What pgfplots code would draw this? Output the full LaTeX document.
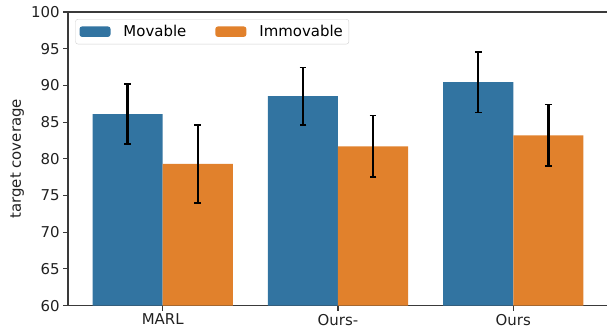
\documentclass[border=0pt]{standalone}
\usepackage{pgfplots}
\pgfplotsset{compat=1.18}
\usepackage{fontspec}
\setmainfont{DejaVu Sans}
\definecolor{sbblue}{HTML}{3274A1}
\definecolor{sborange}{HTML}{E1812C}
\definecolor{spine}{HTML}{3A3A3A}
\begin{document}
\begin{tikzpicture}
\useasboundingbox (0,0) rectangle (607bp,330bp);
\begin{axis}[
  at={(68bp,24.4bp)}, anchor=south west,
  scale only axis, width=541bp, height=293.6bp,
  xmin=-0.54, xmax=2.546, ymin=60, ymax=100,
  xtick={0,1,2}, xticklabels={MARL,Ours-,Ours},
  ytick={60,65,...,100},
  tick align=outside, tick pos=left,
  major tick length=4.9bp,
  tick style={spine, line width=1.1bp},
  axis line style={spine, line width=1.1bp},
  /pgf/number format/assume math mode=true,
  tick label style={font=\fontsize{15}{18}\selectfont, text=black!87},
  label style={font=\fontsize{15}{18}\selectfont, text=black!87},
  ylabel={target coverage},
  ylabel style={at={(axis description cs:-0.094,0.5)}, anchor=center},
  ybar, bar width=0.4, bar shift=0pt,
  legend columns=2,
  legend style={at={(0.0135,0.976)}, anchor=north west,
    draw=black!18, rounded corners=2.5bp, fill=white, fill opacity=0.8, text opacity=1,
    font=\fontsize{15}{18}\selectfont, inner xsep=4bp, inner ysep=4bp,
    /tikz/every odd column/.append style={column sep=11bp},
    /tikz/every even column/.append style={column sep=27bp}},
  legend image code/.code={\fill[#1, fill opacity=1] (0bp,-5.2bp) rectangle (31bp,5.2bp);},
  error bars/error bar style={black, line width=2.4bp},
  error bars/error mark options={black, rotate=90, mark size=3.4bp, line width=1.8bp},
]
\addplot[fill=sbblue, draw=none, bar shift=0pt, error bars/.cd, y dir=both, y explicit]
  coordinates {(-0.2,86.1) +- (0,4.1) (0.8,88.55) +- (0,3.9) (1.8,90.45) +- (0,4.15)};
\addplot[fill=sborange, draw=none, bar shift=0pt, error bars/.cd, y dir=both, y explicit]
  coordinates {(0.2,79.3) +- (0,5.3) (1.2,81.7) +- (0,4.2) (2.2,83.2) +- (0,4.2)};
\legend{Movable,Immovable}
\end{axis}
\end{tikzpicture}
\end{document}
